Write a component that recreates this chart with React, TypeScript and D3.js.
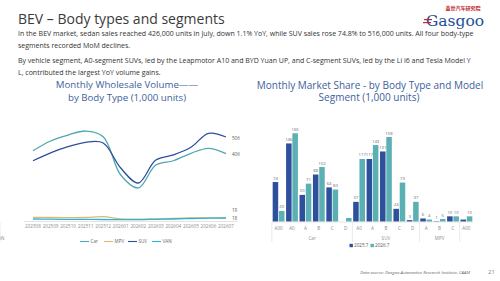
import React from 'react';
import * as d3 from 'd3';

const months = ['202508', '202509', '202510', '202511', '202512', '202601', '202602', '202603', '202604', '202605', '202606', '202607'];
const carVolume = [423, 482, 518, 542, 508, 277, 199, 337, 363, 408, 438, 406];
const mpvVolume = [22, 21, 20, 21, 26, 12, 11, 13, 15, 18, 19, 19];
const suvVolume = [363, 411, 448, 474, 470, 319, 229, 367, 398, 444, 528, 506];
const vanVolume = [12, 11, 10, 10, 9, 8, 8, 10, 12, 15, 17, 18];

const segGroups = ['Car', 'Car', 'Car', 'Car', 'Car', 'Car', 'SUV', 'SUV', 'SUV', 'SUV', 'SUV', 'MPV', 'MPV', 'MPV', 'VAN'];
const segNames = ['A00', 'A0', 'A', 'B', 'C', 'D', 'A0', 'A', 'B', 'C', 'D', 'A', 'B', 'C', 'A00'];
const seg2025 = [74, 146, 50, 88, 64, 0, 37, 117, 131, 24, 3, 6, 1, 10, 4];
const seg2026 = [20, 165, 71, 102, 60, 7, 117, 143, 158, 73, 37, 4, 5, 10, 10];
const hiddenLabels = ['5-2025', '5-2026', '14-2025'];

const paragraph = [
  'In the BEV market, sedan sales reached 426,000 units in July, down 1.1% YoY, while SUV sales rose 74.8% to 516,000 units. All four body-type',
  'segments recorded MoM declines.',
  'By vehicle segment, A0-segment SUVs, led by the Leapmotor A10 and BYD Yuan UP, and C-segment SUVs, led by the Li i6 and Tesla Model Y',
  'L, contributed the largest YoY volume gains.',
];

const font = '"Open Sans", "Noto Sans", sans-serif';
const blue = '#2e4f9c';
const teal = '#5bb0b4';
const titleBlue = '#41609c';

function LineChart() {
  const x = d3.scalePoint<string>().domain(months).range([33, 226]);
  const y = d3.scaleLinear().domain([0, 600]).range([221, 221 - 600 * 0.166]);
  const series = [
    { name: 'Car', values: carVolume, color: '#4fa8ae', dy: 1 },
    { name: 'MPV', values: mpvVolume, color: '#e3b66e', dy: -7 },
    { name: 'SUV', values: suvVolume, color: blue, dy: 1 },
    { name: 'VAN', values: vanVolume, color: '#2db3d6', dy: 0 },
  ];
  const line = d3.line<number>()
    .x((_, i) => x(months[i]) as number)
    .y(d => y(d))
    .curve(d3.curveCatmullRom.alpha(0.5));

  return (
    <g>
      <text x={127} y={88} textAnchor="middle" fontSize={9.7} fill={titleBlue} fontFamily={font}>Monthly Wholesale Volume——</text>
      <text x={127} y={100.5} textAnchor="middle" fontSize={9.7} fill={titleBlue} fontFamily={font}>by Body Type (1,000 units)</text>
      <line x1={24} x2={238} y1={221.5} y2={221.5} stroke="#d9d9d9" strokeWidth={0.7} />
      {series.map(s => (
        <path key={s.name} d={line(s.values) || ''} fill="none" stroke={s.color} strokeWidth={1.3} />
      ))}
      {series.map(s => (
        <text key={s.name} x={232} y={y(s.values[s.values.length - 1]) + s.dy + 1.5} fontSize={4.5} fill="#555" fontFamily={font}>
          {s.values[s.values.length - 1]}
        </text>
      ))}
      {months.map(m => (
        <text key={m} x={x(m)} y={227.5} textAnchor="middle" fontSize={4.6} fill="#8c8c8c" fontFamily={font}>{m}</text>
      ))}
      {series.map((s, i) => {
        const lx = 80 + i * 24;
        return (
          <g key={s.name}>
            <line x1={lx} x2={lx + 9} y1={241.5} y2={241.5} stroke={s.color} strokeWidth={1.1} />
            <text x={lx + 10.5} y={243.2} fontSize={4.6} fill="#666" fontFamily={font}>{s.name}</text>
          </g>
        );
      })}
    </g>
  );
}

function BarChart() {
  const idx = segNames.map((_, i) => String(i));
  const x = d3.scaleBand().domain(idx).range([272, 473]).paddingInner(0.12).paddingOuter(0.05);
  const sub = d3.scaleBand().domain(['2025', '2026']).range([0, x.bandwidth()]).paddingInner(0.12);
  const y = d3.scaleLinear().domain([0, 200]).range([221.7, 221.7 - 200 * 0.536]);
  const groups: { name: string; start: number; end: number }[] = [];
  segGroups.forEach((g, i) => {
    const last = groups[groups.length - 1];
    if (last && last.name === g) last.end = i;
    else groups.push({ name: g, start: i, end: i });
  });
  const step = x.step();
  const left = (i: number) => (x(String(i)) as number) - (step - x.bandwidth()) / 2;
  const bars = [
    { key: '2025', values: seg2025, color: blue },
    { key: '2026', values: seg2026, color: teal },
  ];

  return (
    <g>
      <text x={370} y={88.5} textAnchor="middle" fontSize={10} fill={titleBlue} fontFamily={font}>Monthly Market Share - by Body Type and Model</text>
      <text x={369} y={101} textAnchor="middle" fontSize={10} fill={titleBlue} fontFamily={font}>Segment (1,000 units)</text>
      {bars.map(b => b.values.map((v, i) => {
        const bx = (x(String(i)) as number) + (sub(b.key) as number);
        return (
          <g key={b.key + i}>
            <rect x={bx} y={y(v)} width={sub.bandwidth()} height={y(0) - y(v)} fill={b.color} />
            {!hiddenLabels.includes(`${i}-${b.key}`) && (
              <text x={bx + sub.bandwidth() / 2} y={y(v) - 2.5} textAnchor="middle" fontSize={4.3} fill="#666" fontFamily={font}>{v}</text>
            )}
          </g>
        );
      }))}
      <line x1={272} x2={473} y1={221.9} y2={221.9} stroke="#d9d9d9" strokeWidth={0.7} />
      {segNames.map((n, i) => (
        <text key={i} x={(x(String(i)) as number) + x.bandwidth() / 2} y={229.5} textAnchor="middle" fontSize={4.6} fill="#8c8c8c" fontFamily={font}>{n}</text>
      ))}
      {groups.map(g => (
        <g key={g.name}>
          <line x1={left(g.start)} x2={left(g.start)} y1={221.9} y2={242} stroke="#dcdcdc" strokeWidth={0.6} />
          <text x={(left(g.start) + left(g.end + 1)) / 2} y={239.5} textAnchor="middle" fontSize={4.6} fill="#8c8c8c" fontFamily={font}>{g.name}</text>
        </g>
      ))}
      <line x1={left(segNames.length)} x2={left(segNames.length)} y1={221.9} y2={242} stroke="#dcdcdc" strokeWidth={0.6} />
      <rect x={349.5} y={243.8} width={3.4} height={3.4} fill={blue} />
      <text x={354} y={247.3} fontSize={4.6} fill="#555" fontFamily={font}>2025.7</text>
      <rect x={370.5} y={243.8} width={3.4} height={3.4} fill={teal} />
      <text x={375} y={247.3} fontSize={4.6} fill="#555" fontFamily={font}>2026.7</text>
    </g>
  );
}

export default function App() {
  return (
    <svg width={500} height={281} style={{ position: 'absolute', left: 0, top: 0, background: '#fff' }}>
      <rect width={500} height={281} fill="#fff" />
      <text x={18} y={23.5} fontSize={14} fill="#3a3a3a" fontFamily={font}>BEV – Body types and segments</text>
      {paragraph.map((t, i) => (
        <text key={i} x={18} y={[35.5, 48, 63, 75][i]} fontSize={7} fill="#333" fontFamily={font}>{t}</text>
      ))}
      <g>
        <text x={463} y={10} textAnchor="middle" fontSize={5} fill="#c0282d" fontFamily='"Noto Sans CJK SC", sans-serif' fontWeight="bold">盖世汽车研究院</text>
        <text x={455} y={25.5} textAnchor="middle" fontSize={15.5} fill="#1d4f9a" fontFamily='"DejaVu Serif", serif'>Gasgoo</text>
        <rect x={424} y={19} width={8} height={1.2} fill="#c0282d" />
        <rect x={423} y={22} width={8} height={1.2} fill="#c0282d" />
      </g>
      <LineChart />
      <BarChart />
      <text x={470} y={274} textAnchor="end" fontSize={4.3} fontStyle="italic" fill="#666" fontFamily={font}>Data source: Gasgoo Automotive Research Institute, CAAM</text>
      <text x={488} y={274} fontSize={6} fill="#888" fontFamily={font}>21</text>
    </svg>
  );
}
